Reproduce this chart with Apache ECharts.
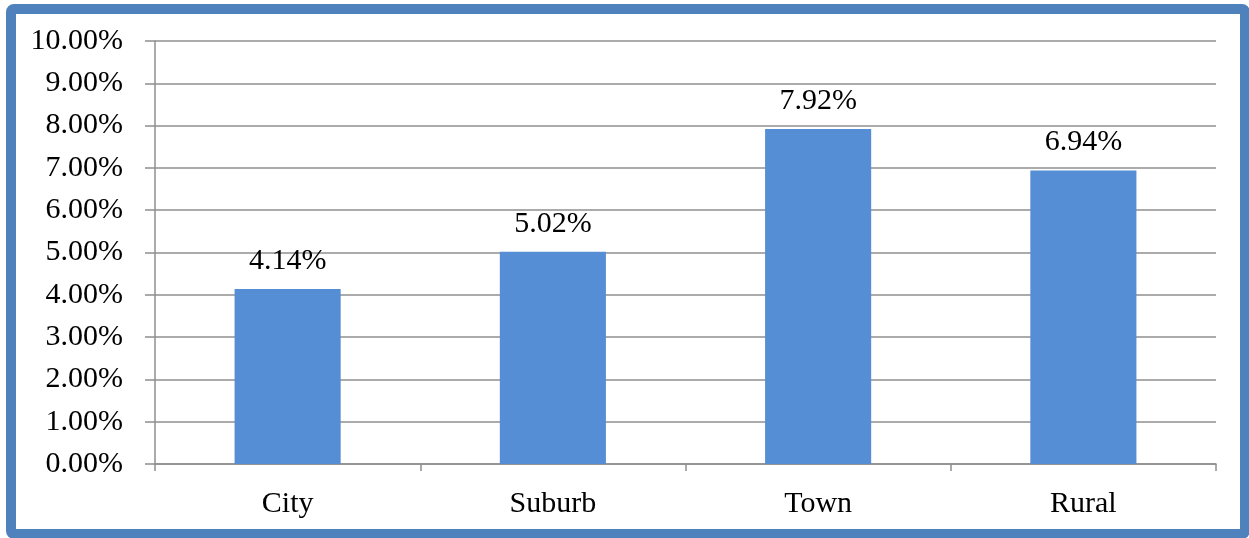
<!DOCTYPE html>
<html>
<head>
<meta charset="utf-8">
<script src="https://cdn.jsdelivr.net/npm/echarts@6/dist/echarts.min.js"></script>
<style>
    html, body { margin: 0; padding: 0; background: #fff; }
    #chart { width: 1249px; height: 538px; }
    #frame {
        position: absolute; left: 6px; top: 4px;
        width: 1224px; height: 515px;
        border: 10px solid #4F81BD; border-radius: 8px;
        pointer-events: none;
    }
</style>
</head>
<body>
<div id="chart"></div>
<div id="frame"></div>
<script>
// data
let categories = ['City', 'Suburb', 'Town', 'Rural'];
let rates = [4.14, 5.02, 7.92, 6.94];

let chart = echarts.init(document.getElementById('chart'));
let font = 'Liberation Serif, Times New Roman, serif';

let option = {
    animation: false,
    grid: { left: 155, right: 33, top: 41, bottom: 74 },
    xAxis: {
        type: 'category',
        data: categories,
        axisLine: { lineStyle: { color: '#8f8f8f', width: 1.5 } },
        axisTick: { show: true, length: 7, alignWithLabel: false, lineStyle: { color: '#8f8f8f', width: 1.5 } },
        axisLabel: { color: '#000', fontFamily: font, fontSize: 30, margin: 25 }
    },
    yAxis: {
        type: 'value',
        min: 0,
        max: 10,
        interval: 1,
        axisLine: { show: true, lineStyle: { color: '#8f8f8f', width: 1.5 } },
        axisTick: { show: true, length: 10, lineStyle: { color: '#8f8f8f', width: 1.5 } },
        splitLine: { lineStyle: { color: '#8f8f8f', width: 1.5 } },
        axisLabel: {
            color: '#000', fontFamily: font, fontSize: 30, margin: 32,
            formatter: function (v) { return v.toFixed(2) + '%'; }
        }
    },
    series: [
        {
            type: 'bar',
            data: rates,
            barCategoryGap: '60%',
            itemStyle: { color: '#558ED5' },
            label: {
                show: true,
                position: 'top',
                distance: 13,
                color: '#000',
                fontFamily: font,
                fontSize: 30,
                formatter: function (p) { return p.value.toFixed(2) + '%'; }
            }
        }
    ]
};
chart.setOption(option);
window.addEventListener('resize', function () { chart.resize(); });
</script>
</body>
</html>
